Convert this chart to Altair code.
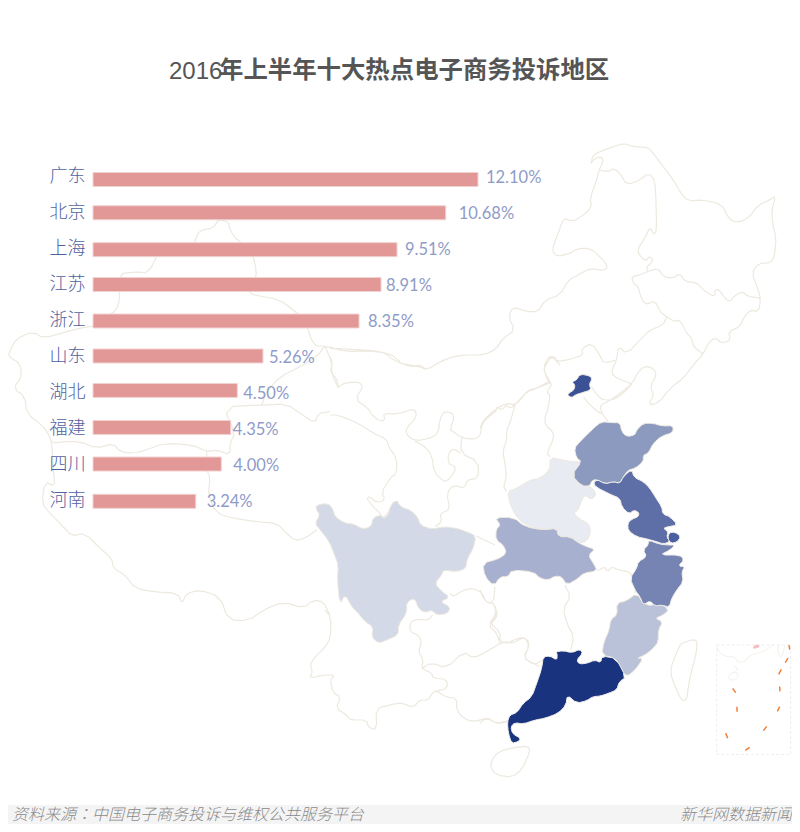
import altair as alt

regions = ["广东", "北京", "上海", "江苏", "浙江", "山东", "湖北", "福建", "四川", "河南"]
shares = [12.10, 10.68, 9.51, 8.91, 8.35, 5.26, 4.50, 4.35, 4.00, 3.24]
share_text = ["12.10%", "10.68%", "9.51%", "8.91%", "8.35%", "5.26%", "4.50%", "4.35%", "4.00%", "3.24%"]
label_gaps = [8, 13, 8, 5, 9, 6, 6, 2, 12, 11]
bar_nudges = [0, -2.5, -1.4, -2.3, -1.6, -2.4, -3.7, -2.5, -1.7, -0.2]
end_nudges = [0.2, 13.1, 1.6, 4.7, 0.5, 2.7, 1.2, -0.6, 1.1, -0.3]


def smooth(pts, is_closed=False):
    """Round the corners of a traced outline (one corner-cutting pass)."""
    out = [] if is_closed else [pts[0]]
    n = len(pts)
    segs = range(n - 1)
    for i in segs:
        a, b = pts[i], pts[i + 1]
        out.append([round(a[0] * .75 + b[0] * .25, 1), round(a[1] * .75 + b[1] * .25, 1)])
        out.append([round(a[0] * .25 + b[0] * .75, 1), round(a[1] * .25 + b[1] * .75, 1)])
    out.append(out[0] if is_closed else pts[-1])
    return out


def z(ox, oy, pts):
    return smooth([[round(ox + x / 3, 1), round(oy + y / 3, 1)] for x, y in pts])


def closed(ox, oy, pts):
    r = [[round(ox + x / 3, 1), round(oy + y / 3, 1)] for x, y in pts]
    return smooth(r + [r[0]], True)


beijing = closed(480, 360, [(300,42),(332,48),(335,60),(328,72),(333,90),(310,97),(285,105),(275,113),(262,105),(270,97),(282,90),(285,75),(276,65),(290,60)])
shandong = closed(480, 360, [(365,185),(395,188),(420,188),(425,215),(440,230),(465,225),(470,210),(490,190),(520,190),(545,198),(580,197),(578,218),(545,228),(520,250),(505,280),(490,285),(490,305),(465,325),(445,330),(430,350),(420,370),(400,365),(375,372),(350,358),(335,362),(330,378),(305,378),(275,345),(305,305),(290,295),(283,265),(300,245),(340,205)])
jiangsu = closed(480, 360, [(455,328),(462,352),(490,365),(510,385),(525,410),(545,440),(548,462),(570,470),(593,495),(565,500),(550,505),(565,515),(560,530),(570,545),(550,552),(530,545),(505,538),(470,530),(445,512),(443,490),(455,478),(475,470),(477,458),(462,450),(447,462),(425,440),(420,415),(395,405),(375,395),(355,385),(340,372),(350,358),(375,372),(400,365),(420,370),(430,350)])
shanghai = closed(480, 360, [(568,518),(585,516),(603,530),(590,547),(572,550),(563,535)])
zhejiang = closed(480, 360, [(505,540),(540,553),(565,555),(585,555),(570,570),(540,585),(600,585),(612,600),(595,618),(615,620),(605,635),(610,665),(590,690),(575,715),(568,742),(545,735),(525,738),(510,722),(490,735),(480,710),(465,690),(450,655),(470,625),(475,605),(500,590),(490,570),(505,555)])
fujian = closed(480, 580, [(470,40),(490,70),(515,78),(530,65),(568,88),(550,105),(525,115),(548,125),(535,150),(535,185),(520,205),(495,225),(470,235),(490,235),(465,270),(440,290),(425,270),(408,235),(365,225),(372,185),(388,150),(392,118),(412,105),(410,70),(440,62)])
guangdong = closed(480, 580, [(228,215),(250,212),(275,218),(300,208),(308,220),(290,240),(298,252),(320,250),(345,240),(362,248),(366,228),(408,235),(438,292),(418,305),(410,330),(385,340),(362,348),(338,350),(320,362),(290,370),(262,345),(258,375),(235,400),(195,415),(165,420),(130,432),(105,428),(92,440),(98,462),(122,475),(115,485),(95,490),(85,460),(82,425),(90,405),(110,398),(130,370),(155,350),(170,310),(185,265),(190,230),(210,228),(230,240),(232,225)])
henan = closed(480, 360, [(210,292),(245,300),(280,305),(305,305),(275,345),(305,378),(330,378),(350,400),(335,420),(315,405),(305,420),(295,450),(280,460),(300,478),(325,490),(333,515),(320,545),(295,548),(270,530),(235,530),(230,505),(190,510),(135,495),(105,465),(90,430),(82,395),(110,385),(150,360),(180,355),(210,330)])
hubei = closed(480, 360, [(45,473),(100,472),(135,500),(190,510),(230,505),(235,530),(270,530),(295,548),(320,560),(345,568),(325,585),(340,610),(352,632),(310,640),(295,655),(260,675),(245,650),(225,648),(205,660),(180,655),(160,635),(95,630),(85,650),(60,650),(42,678),(15,650),(8,610),(55,597),(80,580),(70,555),(48,540),(48,508),(62,495)])
sichuan = closed(300, 490, [(50,45),(85,40),(100,60),(105,80),(135,100),(160,102),(190,118),(215,108),(218,85),(240,75),(250,85),(265,75),(270,50),(290,28),(300,50),(335,62),(355,85),(360,105),(395,118),(430,110),(470,115),(500,125),(528,138),(520,175),(500,210),(498,235),(470,245),(430,240),(425,255),(405,280),(420,300),(450,322),(420,335),(450,350),(445,370),(410,375),(395,360),(375,368),(355,355),(345,325),(320,335),(320,370),(295,405),(295,435),(260,450),(235,460),(215,440),(220,410),(195,395),(175,370),(155,350),(135,312),(120,345),(112,270),(115,225),(100,185),(85,150),(60,120),(45,100),(60,75),(48,58)])

borders = [
    z(400, 130, [(572,100),(580,75),(600,65),(640,50),(672,40),(700,50),(745,52),(760,70),(790,110),(820,150),(840,185),(862,213),(910,210),(965,222),(985,265),(1010,278),(1045,265),(1075,225),(1110,210),(1127,197),(1115,240),(1118,285),(1128,320),(1125,370),(1115,398),(1075,400),(1055,430),(1075,480),(1082,510),(1075,545),(1050,540),(1030,565),(1020,590),(985,605),(992,630),(965,640),(945,622),(925,640),(910,672),(880,705),(850,745),(810,775),(775,820),(745,825),(762,795),(750,770),(770,735),(760,715),(735,708),(715,725),(695,762),(660,790),(625,815),(600,825),(605,850),(625,875)]),
    z(400, 130, [(572,100),(585,85),(605,80),(610,95),(597,120),(590,150),(570,205),(575,235),(530,270),(510,272),(490,265),(475,310),(455,360),(470,380),(510,370),(535,355),(570,355),(600,380),(625,410),(610,422),(570,415),(535,435),(505,450),(480,495),(435,510),(415,545),(380,545),(340,530),(325,560),(345,600),(310,625),(285,660),(250,675),(180,675),(130,690),(80,720),(60,710),(0,700)]),
    z(400, 130, [(597,120),(625,125),(640,115),(660,130),(680,165),(720,150),(745,130),(765,150),(768,220),(770,300),(762,315),(750,290),(735,325),(710,360),(725,385),(742,392),(745,380),(758,385),(755,398),(740,410),(742,425)]),
    z(400, 130, [(742,425),(775,415),(790,440),(820,445),(840,430),(855,455),(890,458),(905,475),(925,490),(945,500),(945,478),(958,480),(975,505),(990,515),(1005,495),(1030,485),(1040,498),(1080,505)]),
    z(400, 130, [(742,425),(718,435),(695,440),(700,460),(715,470),(720,495),(735,525),(765,512),(780,545),(800,560),(825,575),(840,570),(860,610),(875,625),(880,650),(910,672)]),
    z(400, 130, [(800,560),(790,585),(750,600),(725,625),(680,672),(655,648),(650,690),(635,720),(640,740),(695,762)]),
    z(400, 130, [(650,690),(610,700),(600,675),(575,640),(545,655),(548,675),(520,685),(500,690),(470,695),(465,680),(445,680),(430,715),(445,755),(450,760)]),
    z(400, 130, [(445,755),(410,775),(385,780),(365,805),(345,825),(320,820),(290,835),(250,870),(240,895)]),
    z(400, 130, [(575,770),(590,795),(610,810),(640,810),(670,790),(695,762)]),
    z(400, 130, [(550,800),(570,825),(600,850),(605,850)]),
    z(0, 140, [(1200,665),(1170,640),(1100,632),(1040,635),(975,618),(940,618),(915,540),(880,510),(840,480),(790,470),(750,462),(750,440),(770,410),(765,370),(750,320),(710,300),(690,270),(685,245),(655,238),(640,265),(600,270),(585,300),(585,325),(550,335),(500,310),(475,340),(445,400),(410,395),(355,402),(360,470),(350,510),(320,530),(315,555),(260,560),(200,575),(130,595),(100,575),(50,595),(30,630),(25,650),(60,670),(65,710),(40,745),(75,770),(80,820),(125,855),(145,880),(155,910)]),
    z(0, 140, [(975,618),(950,650),(900,680),(840,710),(800,755),(785,795)]),
    z(0, 140, [(975,618),(995,665),(995,700),(1015,745)]),
    z(0, 300, [(145,400),(155,430),(190,425),(240,425),(290,445),(340,430),(360,455),(400,460),(440,450),(490,430),(580,435),(620,455),(650,450),(690,465),(690,430),(705,400),(670,320),(785,315),(860,312),(900,340),(945,370),(955,340),(990,335)]),
    z(0, 300, [(155,430),(160,510),(165,560),(135,545),(125,610),(150,640),(190,680),(215,708),(255,700),(300,745),(335,775),(340,805),(375,825),(405,865),(460,875),(535,880),(545,912),(560,880),(600,870),(660,890),(685,960),(745,962),(790,930),(850,905),(910,925),(940,900),(970,905),(990,945)]),
    z(0, 300, [(620,455),(620,510),(630,530),(625,590),(650,640),(700,655),(770,665),(830,670),(855,695),(885,722),(915,715),(950,690)]),
    z(330, 340, [(515,0),(500,25),(465,45),(400,45),(370,50),(330,65),(290,90),(270,75),(240,80),(190,60),(160,35),(100,30),(0,25)]),
    z(330, 340, [(690,75),(665,48),(650,70),(640,90),(660,125),(665,135),(650,155),(660,165),(655,205),(645,230),(645,255),(670,275),(670,300),(650,340),(660,350)]),
    z(330, 340, [(660,128),(620,145),(590,155),(555,195),(540,205),(530,195),(515,210),(500,200),(500,212),(470,235),(455,255),(450,290),(430,298),(395,293),(370,275),(360,270),(375,225),(345,212),(330,235),(325,280),(300,295),(255,303),(230,285),(228,265),(260,232),(255,205),(205,222),(160,220),(165,240),(150,243),(125,225),(115,205),(75,178),(100,140),(85,125),(40,130),(25,143),(20,115),(0,95),(8,70),(0,50)]),
    z(330, 340, [(0,225),(25,225),(85,250),(130,280),(170,298),(175,318),(200,355),(200,400),(180,415),(155,455),(165,480),(140,488),(120,470),(110,475),(125,495),(150,520),(160,535),(180,510),(190,485)]),
    z(330, 340, [(395,293),(392,340),(445,365),(445,415),(410,420),(405,445),(370,435),(350,460),(360,510),(330,520),(335,545),(315,560)]),
    z(330, 340, [(255,303),(285,320),(305,345),(312,395),(335,420),(350,425),(375,395),(375,378),(355,372),(355,340),(370,325),(392,340)]),
    z(330, 340, [(555,195),(540,250),(530,270),(530,300),(518,335),(525,370),(530,410),(520,440),(530,453)]),
    z(300, 610, [(75,0),(92,20),(92,85),(70,118),(45,140),(30,165),(38,185),(28,205),(70,195),(105,195),(90,210),(100,250),(122,260),(108,295),(140,315),(150,330),(200,330),(205,352),(230,360),(228,295),(270,285),(300,278),(320,285),(340,292),(360,270),(385,270),(400,245),(410,243),(440,262),(470,265),(470,300),(490,325),(520,335),(560,325),(590,340),(625,332)]),
    z(300, 610, [(398,15),(385,30),(345,28),(330,40),(330,65),(355,75),(365,95),(355,125),(370,150),(365,175),(395,190),(400,205),(440,208),(442,235),(410,243)]),
    z(300, 610, [(365,175),(395,158),(440,175),(490,125),(520,145),(560,125),(600,100),(620,95),(640,100),(672,80),(690,100),(672,145),(690,155),(720,170)]),
    z(300, 610, [(600,100),(590,70),(565,45),(590,25),(590,0)]),
    z(300, 490, [(528,138),(585,165)]),
    z(300, 490, [(450,310),(460,320),(490,300),(520,295),(548,310),(555,335),(580,340),(585,290)]),
    z(300, 490, [(580,340),(590,370),(565,405),(590,430)]),
    z(480, 500, [(0,270),(15,305),(45,312),(50,345),(30,370),(60,395),(60,425),(85,430),(100,420),(135,410),(148,440),(130,470),(160,495),(190,480)]),
    z(480, 500, [(255,255),(272,290),(250,325),(260,370),(282,410),(272,450)]),
    z(480, 500, [(350,212),(375,200),(382,215),(395,200),(415,210),(448,215),(465,240),(465,280)]),
    z(480, 580, [(82,425),(50,432),(20,410),(0,430)]),
    closed(480, 580, [(605,190),(640,178),(652,185),(648,225),(635,270),(625,320),(620,360),(605,362),(590,330),(575,295),(572,265),(585,230),(600,195)]),
    closed(480, 580, [(55,515),(100,503),(145,498),(150,515),(125,570),(95,592),(50,585),(32,565),(35,540)]),
]

inset_land = [
    z(710, 640, [(20,20),(30,40),(50,50),(75,50),(85,70),(110,60),(120,45),(160,35),(190,15)]),
    z(710, 640, [(205,15),(205,40),(215,55),(225,15)]),
    z(710, 640, [(70,80),(85,85),(75,95)]),
    closed(710, 640, [(60,100),(80,95),(85,110),(70,122),(55,115)]),
]
inset_frame = [[716.7, 645], [790.7, 645], [790.7, 754.3], [716.7, 754.3], [716.7, 645]]
inset_pink = closed(710, 640, [(128,25),(135,15),(148,15),(147,22),(135,25)])
inset_dashes = [
    [[710 + x / 3, 640 + y / 3] for x, y in p] for p in [
        [(68,145),(77,158)], [(81,200),(81,215)], [(47,280),(53,295)], [(106,331),(119,322)],
        [(160,272),(170,259)], [(202,214),(209,200)], [(209,140),(210,154)], [(206,103),(214,88)],
        [(226,68),(234,54)], [(237,15),(239,29)],
    ]
]

PROJ = dict(type="identity", scale=1, translate=[-8, -8])


def lines(paths):
    return alt.Data(values=[{"type": "Feature", "properties": {},
                             "geometry": {"type": "MultiLineString", "coordinates": paths}}])


def poly(ring):
    return alt.Data(values=[{"type": "Feature", "properties": {},
                             "geometry": {"type": "Polygon", "coordinates": [ring]}}])


layers = []
LINE = "#ede9df"
layers.append(alt.Chart(lines(borders)).mark_geoshape(filled=False, stroke=LINE, strokeWidth=1.2, strokeJoin="round").project(**PROJ))
layers.append(alt.Chart(lines(inset_land)).mark_geoshape(filled=False, stroke="#efece4", strokeWidth=0.8).project(**PROJ))
layers.append(alt.Chart(lines([inset_frame])).mark_geoshape(filled=False, stroke="#eeeeee", strokeWidth=1, strokeDash=[3, 2]).project(**PROJ))
layers.append(alt.Chart(lines(inset_dashes)).mark_geoshape(filled=False, stroke="#ee7b30", strokeWidth=1.4).project(**PROJ))
layers.append(alt.Chart(poly(inset_pink)).mark_geoshape(fill="#f6bcbc", stroke="#f6bcbc", strokeWidth=0.5).project(**PROJ))

for ring, color, edge in [
    (sichuan, "#d3d9e6", LINE), (henan, "#e8ebf2", LINE), (hubei, "#a7b0cf", LINE),
    (fujian, "#b9c2d9", LINE), (shandong, "#8d9abf", LINE), (zhejiang, "#7584b3", "#f0eee8"),
    (jiangsu, "#5d6fa6", "#f0eee8"), (shanghai, "#4a5f9f", "#f0eee8"), (beijing, "#3b5196", LINE),
    (guangdong, "#1a337f", "#f0eee8"),
]:
    layers.append(alt.Chart(poly(ring)).mark_geoshape(fill=color, stroke=edge, strokeWidth=1, strokeJoin="round").project(**PROJ))

# x: 31.8 px per percentage point, bars start 85 px inside the plot
x_scale = alt.Scale(domain=[-85 / 31.8, 699 / 31.8])
y_scale = alt.Scale(type="point", domain=regions, range=[171.5, 493.5], padding=0)
X = alt.X("share:Q", scale=x_scale, axis=None, stack=None)
Y = alt.Y("region:N", scale=y_scale, axis=None, sort=None)

for i, (r, s, t, gap, nudge, end) in enumerate(zip(regions, shares, share_text, label_gaps, bar_nudges, end_nudges)):
    row = alt.Data(values=[{"region": r, "share": s, "label": t, "base": 0}])
    dy = -2.5 + 0.22 * i
    layers.append(alt.Chart(row).mark_bar(size=14, xOffset=end, x2Offset=0, yOffset=nudge, color="#e29897", stroke="#f2d2d0", strokeWidth=1)
                  .encode(x=X, x2="base:Q", y=Y))
    layers.append(alt.Chart(row).mark_text(align="right", baseline="middle", dy=dy, fontSize=18, fontWeight=300,
                                           font="Noto Sans CJK SC", fill="#4f62a0")
                  .encode(x=alt.value(77.5), y=Y, text="region:N"))
    layers.append(alt.Chart(row).mark_text(align="left", baseline="middle", dx=gap + end, dy=dy + 1, fontSize=16.5,
                                           font="Lato", fontWeight=400, fill="#8f9bc8")
                  .encode(x=X, y=Y, text="label:N"))

blank = alt.Data(values=[{"a": 1}])
TITLE = "#555555"
FOOT = "#8a8a8a"
layers.append(alt.Chart(blank).mark_rect(fill="#f4f4f4").encode(x=alt.value(0), x2=alt.value(784), y=alt.value(797), y2=alt.value(816)))
layers.append(alt.Chart(blank).mark_text(align="left", baseline="middle", fontSize=24, font="Liberation Sans", fill=TITLE, text="2016")
              .encode(x=alt.value(161), y=alt.value(64)))
layers.append(alt.Chart(blank).mark_text(align="left", baseline="middle", fontSize=24.4, fontWeight="bold", font="Noto Sans CJK SC", fill=TITLE, text="年上半年十大热点电子商务投诉地区")
              .encode(x=alt.value(211), y=alt.value(62.5)))
for txt, px, fnt in [("资料来源", 4, "Noto Sans CJK SC"), ("：", 68, "Noto Sans CJK TC"), ("中国电子商务投诉与维权公共服务平台", 84, "Noto Sans CJK SC")]:
    layers.append(alt.Chart(blank).mark_text(align="left", baseline="middle", fontSize=16, fontStyle="italic", fontWeight=300, font=fnt, fill=FOOT, text=txt)
                  .encode(x=alt.value(px), y=alt.value(807)))
layers.append(alt.Chart(blank).mark_text(align="right", baseline="middle", fontSize=16, fontStyle="italic", fontWeight=300, font="Noto Sans CJK SC", fill=FOOT, text="新华网数据新闻")
              .encode(x=alt.value(784), y=alt.value(807)))

chart = alt.layer(*layers).properties(
    width=784, height=816, padding=0, autosize=alt.AutoSizeParams(type="none"), background="white"
).configure_view(stroke=None)

chart.save("out.html", embed_options={"renderer": "svg", "actions": False})
